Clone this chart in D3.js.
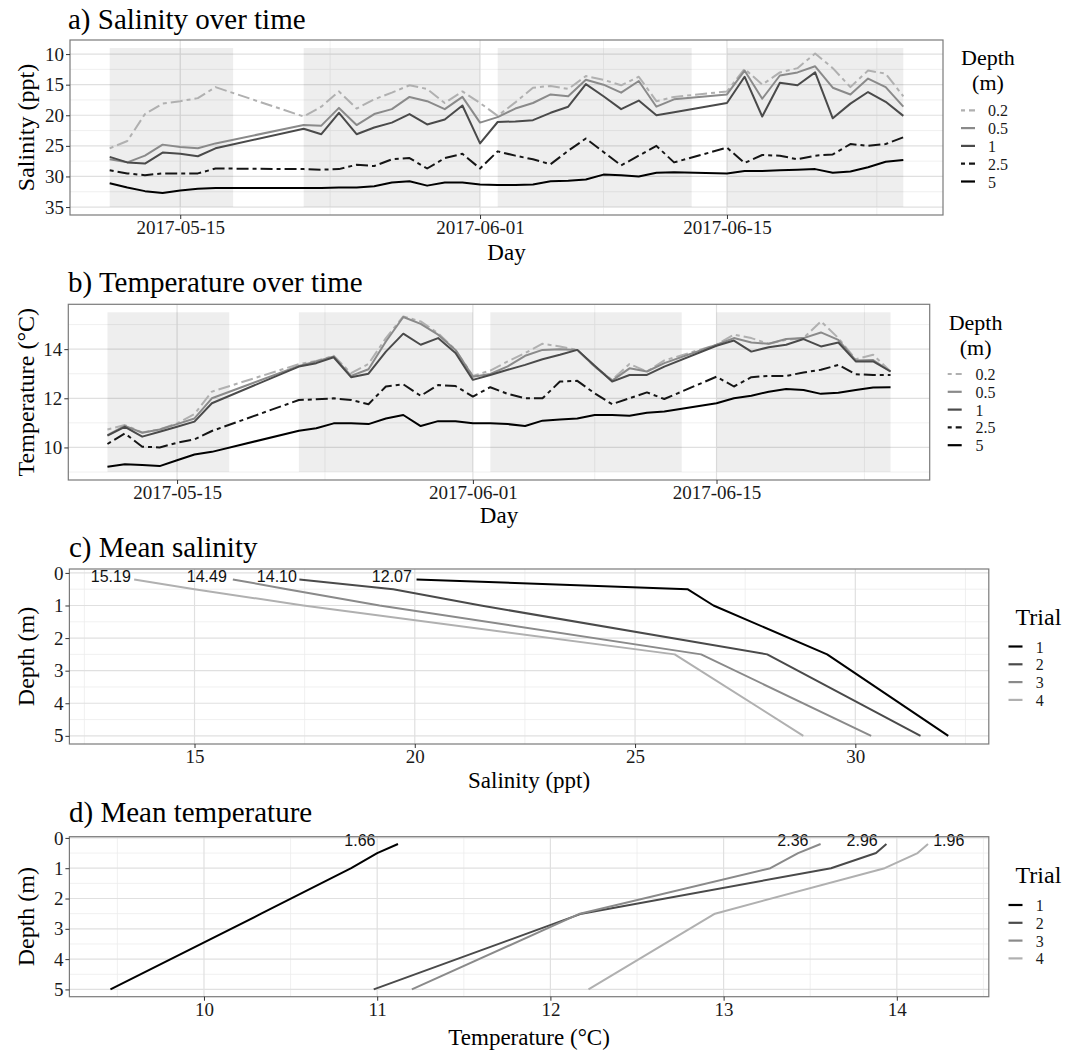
<!DOCTYPE html>
<html><head><meta charset="utf-8">
<script src="https://cdn.jsdelivr.net/npm/d3@7"></script>
<style>body{margin:0;background:#fff}svg{display:block}</style>
</head><body>
<svg id="chart" width="1067" height="1050"></svg>
<script>
// ---------------- DATA ----------------
const dates = [
  "2017-05-11","2017-05-12","2017-05-13","2017-05-14","2017-05-15","2017-05-16","2017-05-17",
  "2017-05-22","2017-05-23","2017-05-24","2017-05-25","2017-05-26","2017-05-27","2017-05-28","2017-05-29","2017-05-30","2017-05-31","2017-06-01",
  "2017-06-02","2017-06-03","2017-06-04","2017-06-05","2017-06-06","2017-06-07","2017-06-08","2017-06-09","2017-06-10","2017-06-11","2017-06-12",
  "2017-06-15","2017-06-16","2017-06-17","2017-06-18","2017-06-19","2017-06-20","2017-06-21","2017-06-22","2017-06-23","2017-06-24","2017-06-25"];
const depthLevels = ["0.2","0.5","1","2.5","5"];

const sal02 = [25.4,24.2,19.8,18.1,17.7,17.2,15.4,
  20.2,18.6,16.1,18.9,17.4,16.3,15.1,15.7,18.0,16.1,18.0,
  20.1,17.9,15.5,15.2,15.7,13.6,14.2,15.1,13.7,17.7,17.0,
  16.1,12.4,15.0,13.0,12.3,9.9,12.3,15.4,12.7,13.2,16.9];
const sal05 = [27.2,27.7,26.6,24.8,25.2,25.4,24.6,
  21.6,21.7,18.8,21.6,19.8,19.0,17.0,17.7,19.0,17.0,21.2,
  20.3,18.9,18.0,16.6,16.9,14.2,15.0,16.3,14.4,18.6,17.4,
  16.6,12.7,17.3,13.5,13.0,12.0,15.5,16.6,14.0,15.4,18.6];
const sal1 = [26.8,27.7,27.9,26.1,26.3,26.7,25.4,
  22.2,23.1,19.6,23.1,22.0,21.2,19.8,21.5,20.7,18.4,24.6,
  21.1,21.0,20.8,19.6,18.6,14.9,16.9,19.0,17.6,20.0,19.5,
  18.0,13.7,20.2,14.7,15.1,13.0,20.5,18.1,16.2,17.8,20.1];
const sal25 = [29.0,29.5,29.8,29.5,29.5,29.5,28.7,
  28.8,28.9,28.8,28.1,28.3,27.2,27.0,28.7,27.0,26.3,28.7,
  25.9,26.6,27.2,28.0,25.8,23.8,26.0,28.2,26.6,25.0,27.7,
  25.3,27.8,26.5,26.6,27.2,26.6,26.4,24.7,25.0,24.7,23.6];
const sal5 = [31.1,31.8,32.4,32.7,32.3,32.0,31.9,
  31.9,31.9,31.8,31.8,31.6,31.0,30.8,31.5,31.0,31.0,31.3,
  31.4,31.4,31.3,30.8,30.7,30.5,29.7,29.8,30.0,29.4,29.3,
  29.5,29.1,29.1,29.0,28.9,28.8,29.4,29.2,28.5,27.6,27.3];

const tmp02 = [10.73,10.91,10.61,10.73,10.98,11.36,12.27,
  13.39,13.52,13.73,13.02,13.40,14.45,15.33,15.13,14.65,13.97,12.91,
  13.13,13.50,13.84,14.22,14.11,13.97,13.29,12.75,13.40,13.09,13.54,
  14.18,14.59,14.45,14.22,14.38,14.45,15.13,14.45,13.59,13.77,13.09];
const tmp05 = [10.50,10.88,10.60,10.73,10.95,11.18,12.00,
  13.32,13.50,13.70,12.91,13.18,14.31,15.31,15.03,14.59,13.97,12.88,
  12.99,13.30,13.73,13.97,14.00,13.97,13.29,12.72,13.22,13.09,13.43,
  14.18,14.45,14.27,14.22,14.41,14.45,14.68,14.38,13.54,13.56,13.09];
const tmp1 = [10.48,10.84,10.44,10.64,10.84,11.05,11.80,
  13.29,13.43,13.67,12.86,13.00,13.90,14.63,14.18,14.45,13.84,12.75,
  12.95,13.16,13.36,13.59,13.77,13.97,13.32,12.68,12.95,12.95,13.29,
  14.14,14.35,13.90,14.08,14.18,14.41,14.11,14.27,13.50,13.50,13.09];
const tmp25 = [10.14,10.57,10.03,10.00,10.19,10.33,10.67,
  11.93,11.96,12.00,11.93,11.76,12.48,12.57,12.10,12.54,12.50,12.07,
  12.45,12.18,12.00,12.00,12.68,12.71,12.20,11.76,12.00,12.24,11.97,
  12.88,12.48,12.86,12.91,12.91,13.05,13.16,13.36,12.98,12.95,12.95];
const tmp5 = [9.21,9.32,9.29,9.24,9.48,9.71,9.82,
  10.68,10.78,10.98,10.98,10.95,11.18,11.32,10.87,11.07,11.07,10.98,
  10.98,10.95,10.87,11.09,11.14,11.18,11.32,11.32,11.29,11.41,11.46,
  11.80,12.00,12.10,12.27,12.38,12.34,12.18,12.23,12.34,12.44,12.45];

const trialStart = ["2017-05-11","2017-05-22","2017-06-02","2017-06-15"];
const trialEnd   = ["2017-05-18","2017-06-01","2017-06-13","2017-06-25"];
const dateTicks = ["2017-05-15","2017-06-01","2017-06-15"];
const dateMinor = ["2017-05-23T12:00","2017-06-08T00:00","2017-06-23T12:00"];

const trialLevels = ["1","2","3","4"];
const profileDepths = [0.2, 0.5, 1, 2.5, 5];
const salTrial1 = [20.04, 26.19, 26.78, 29.36, 32.11];
const salTrial2 = [17.38, 19.51, 21.50, 28.00, 31.48];
const salTrial3 = [15.87, 17.10, 19.20, 26.50, 30.36];
const salTrial4 = [13.63, 15.00, 17.47, 25.90, 28.82];
const salLabels = ["12.07","14.10","14.49","15.19"];
const salLabelX = [19.48, 16.87, 15.28, 13.10];
const tmpTrial1 = [11.12, 11.00, 10.85, 10.33, 9.46];
const tmpTrial2 = [13.94, 13.88, 13.62, 12.18, 10.98];
const tmpTrial3 = [13.56, 13.43, 13.27, 12.17, 11.20];
const tmpTrial4 = [14.18, 14.12, 13.93, 12.95, 12.22];
const tmpLabels = ["1.66","2.96","2.36","1.96"];
const tmpLabelX = [10.90, 13.80, 13.40, 14.30];
const labelDepth = 0.1;

const salTicks = [10,15,20,25,30,35], salMinor = [12.5,17.5,22.5,27.5,32.5];
const tmpTicks = [10,12,14], tmpMinor = [9,11,13,15];
const depthTicks = [0,1,2,3,4,5], depthMinor = [0.5,1.5,2.5,3.5,4.5];
const salXTicks = [15,20,25,30], salXMinor = [12.5,17.5,22.5,27.5,32.5];
const tmpXTicks = [10,11,12,13,14], tmpXMinor = [9.5,10.5,11.5,12.5,13.5,14.5];

// ---------------- STYLES ----------------
const depthColors = ["#b0b0b0","#8a8a8a","#4a4a4a","#151515","#000000"];
const depthDash = ["4,4,12,4", null, null, "4,4,12,4", null];
const trialColors = ["#000000","#4a4a4a","#8a8a8a","#b0b0b0"];
const SERIF = "'Liberation Serif','Times New Roman',Times,serif";
const SANS = "'Liberation Sans',Arial,Helvetica,sans-serif";

const svg = d3.select("#chart");
svg.append("rect").attr("width",1067).attr("height",1050).attr("fill","#fff");
const pd = d3.utcParse("%Y-%m-%d");
const pdt = d3.utcParse("%Y-%m-%dT%H:%M");
const fmt = d3.utcFormat("%Y-%m-%d");

function grid(g, p) {
  const {l,r,t,b} = p.box;
  const hl = (vals, col, w) => g.append("g").selectAll("line").data(vals).join("line")
      .attr("x1",l).attr("x2",r).attr("y1",d=>p.y(d)).attr("y2",d=>p.y(d))
      .attr("stroke",col).attr("stroke-width",w);
  const vl = (vals, col, w) => g.append("g").selectAll("line").data(vals).join("line")
      .attr("y1",t).attr("y2",b).attr("x1",d=>p.x(d)).attr("x2",d=>p.x(d))
      .attr("stroke",col).attr("stroke-width",w);
  hl(p.yMinor, "#ececec", 0.8); vl(p.xMinor, "#ececec", 0.8);
  hl(p.yMajor, "#e0e0e0", 1.2); vl(p.xMajor, "#e0e0e0", 1.2);
}
function frame(g, p) {
  const {l,r,t,b} = p.box;
  g.append("rect").attr("x",l).attr("y",t).attr("width",r-l).attr("height",b-t)
    .attr("fill","none").attr("stroke","#7a7a7a").attr("stroke-width",1.2);
  const ax = g.append("g").attr("transform",`translate(0,${b})`)
    .call(d3.axisBottom(p.x).tickValues(p.xMajor).tickFormat(p.xFmt).tickSize(4).tickPadding(1.5).tickSizeOuter(0));
  const ay = g.append("g").attr("transform",`translate(${l},0)`)
    .call(d3.axisLeft(p.y).tickValues(p.yMajor).tickFormat(d3.format("d")).tickSize(4).tickPadding(2).tickSizeOuter(0));
  [ax, ay].forEach(a => {
    a.select(".domain").remove();
    a.selectAll(".tick line").attr("stroke","#333");
    a.selectAll(".tick text").attr("font-family",SERIF).attr("font-size",19).attr("fill","#1a1a1a");
  });
  g.append("text").attr("x",p.titlePos[0]).attr("y",p.titlePos[1]).text(p.title)
    .attr("font-family",SERIF).attr("font-size",29).attr("fill","#000");
  g.append("text").attr("x",(l+r)/2).attr("y",p.xTitleY).attr("text-anchor","middle").text(p.xTitle)
    .attr("font-family",SERIF).attr("font-size",23).attr("fill","#000");
  g.append("text").attr("transform",`translate(34,${(t+b)/2}) rotate(-90)`).attr("text-anchor","middle").text(p.yTitle)
    .attr("font-family",SERIF).attr("font-size",24).attr("fill","#000");
}
function legend(g, lg, title, levels, colors, dashes) {
  if (Array.isArray(title)) {
    title.forEach((tt,i)=> g.append("text").attr("x",lg.tx).attr("y",lg.ty + i*25).attr("text-anchor","middle")
      .text(tt).attr("font-family",SERIF).attr("font-size",22).attr("fill","#000"));
  } else {
    g.append("text").attr("x",lg.tx).attr("y",lg.ty).text(title)
      .attr("font-family",SERIF).attr("font-size",24).attr("fill","#000");
  }
  levels.forEach((lv,i)=>{
    const yy = lg.y0 + i*lg.dy;
    g.append("line").attr("x1",lg.kx).attr("x2",lg.kx+14).attr("y1",yy).attr("y2",yy)
      .attr("stroke",colors[i]).attr("stroke-width",2.2).attr("stroke-dasharray",dashes ? dashes[i] : null);
    g.append("text").attr("x",lg.lx).attr("y",yy+6).text(lv)
      .attr("font-family",SERIF).attr("font-size",16).attr("fill","#1a1a1a");
  });
}

// ---------- time panels ----------
function timePanel(cfg, series, yDom, rectY) {
  const g = svg.append("g");
  const {l,r,t,b} = cfg.box;
  const x = d3.scaleUtc().domain([pdt("2017-05-08T18:00"), pdt("2017-06-27T06:00")]).range([l,r]);
  const y = d3.scaleLinear().domain(yDom).range(cfg.reverse ? [t,b] : [b,t]);
  const p = Object.assign({x, y, xMajor: dateTicks.map(pd), xMinor: dateMinor.map(pdt), xFmt: fmt}, cfg);
  grid(g, p);
  g.append("g").selectAll("rect").data(trialStart.map((s,i)=>[pd(s), pd(trialEnd[i])])).join("rect")
    .attr("x",d=>x(d[0])).attr("width",d=>x(d[1])-x(d[0]))
    .attr("y",Math.min(y(rectY[0]),y(rectY[1]))).attr("height",Math.abs(y(rectY[1])-y(rectY[0])))
    .attr("fill","#000").attr("fill-opacity",0.065);
  const line = d3.line().x((d,i)=>x(pd(dates[i]))).y(d=>y(d));
  series.forEach((s,k)=>{
    g.append("path").attr("d",line(s)).attr("fill","none").attr("stroke",depthColors[k])
      .attr("stroke-width",2).attr("stroke-linejoin","round").attr("stroke-dasharray",depthDash[k]);
  });
  frame(g, p);
  legend(g, cfg.legend, ["Depth","(m)"], depthLevels, depthColors, depthDash);
}

timePanel({box:{l:70,r:943,t:40,b:215}, reverse:true, yMajor:salTicks, yMinor:salMinor,
  title:"a) Salinity over time", titlePos:[68,29], xTitle:"Day", xTitleY:259.5, yTitle:"Salinity (ppt)",
  legend:{tx:988, ty:64.5, kx:961, lx:988, y0:110.3, dy:17.8}},
  [sal02, sal05, sal1, sal25, sal5], [7.7, 36.3], [9, 35]);

timePanel({box:{l:68.3,r:929.7,t:304.3,b:480}, reverse:false, yMajor:tmpTicks, yMinor:tmpMinor,
  title:"b) Temperature over time", titlePos:[68,291.5], xTitle:"Day", xTitleY:523, yTitle:"Temperature (°C)",
  legend:{tx:975.6, ty:329.5, kx:947.7, lx:975.6, y0:374, dy:17.8}},
  [tmp02, tmp05, tmp1, tmp25, tmp5], [8.675, 15.825], [9, 15.5]);

// ---------- profile panels ----------
function profilePanel(cfg, trials, labels, labelX) {
  const g = svg.append("g");
  const {l,r,t,b} = cfg.box;
  const x = d3.scaleLinear().domain(cfg.xDom).range([l,r]);
  const y = d3.scaleLinear().domain(cfg.yDom).range([t,b]);
  const p = Object.assign({x, y, xFmt: d3.format("d"), yMajor: depthTicks, yMinor: depthMinor}, cfg);
  grid(g, p);
  const line = d3.line().x(d=>x(d)).y((d,i)=>y(profileDepths[i]));
  trials.forEach((s,k)=>{
    g.append("path").attr("d",line(s)).attr("fill","none").attr("stroke",trialColors[k])
      .attr("stroke-width",2).attr("stroke-linejoin","round");
  });
  labels.forEach((lab,k)=>{
    g.append("text").attr("x",x(labelX[k])).attr("y",y(labelDepth)+5.5).attr("text-anchor","middle")
      .text(lab).attr("font-family",SANS).attr("font-size",16).attr("fill","#111");
  });
  frame(g, p);
  legend(g, cfg.legend, "Trial", trialLevels, trialColors, null);
}

profilePanel({box:{l:69.4,r:988.8,t:569,b:744}, xDom:[12.16,33.03], yDom:[-0.12,5.25],
  xMajor:salXTicks, xMinor:salXMinor, title:"c) Mean salinity", titlePos:[69,556.5],
  xTitle:"Salinity (ppt)", xTitleY:788, yTitle:"Depth (m)",
  legend:{tx:1015.5, ty:625.3, kx:1008.5, lx:1035.7, y0:646.5, dy:17.8}},
  [salTrial1, salTrial2, salTrial3, salTrial4], salLabels, salLabelX);

profilePanel({box:{l:69.4,r:988.8,t:836.7,b:996.7}, xDom:[9.223,14.531], yDom:[-0.04,5.24],
  xMajor:tmpXTicks, xMinor:tmpXMinor, title:"d) Mean temperature", titlePos:[69,821.5],
  xTitle:"Temperature (°C)", xTitleY:1045, yTitle:"Depth (m)",
  legend:{tx:1015.5, ty:883, kx:1008.5, lx:1035.7, y0:905, dy:17.8}},
  [tmpTrial1, tmpTrial2, tmpTrial3, tmpTrial4], tmpLabels, tmpLabelX);
</script>
</body></html>
